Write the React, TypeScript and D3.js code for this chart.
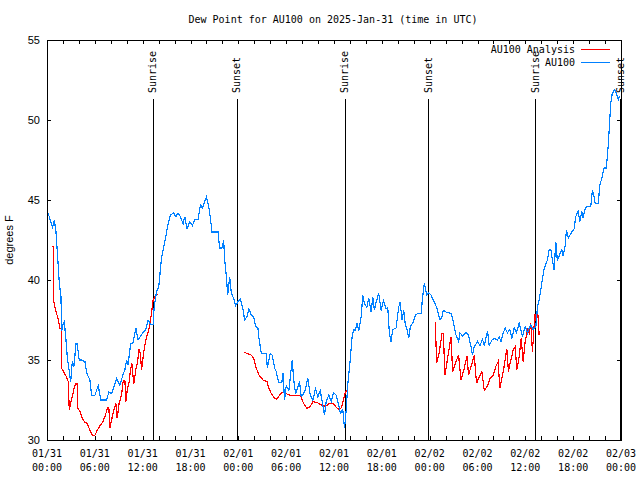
import React from "react";
import * as d3 from "d3";

// hours since 2025-01-31 00:00 UTC
const blueHours = [0.13,0.38,0.71,0.91,1.13,1.42,1.54,1.75,1.84,2.04,2.17,2.38,2.54,2.79,2.97,3.17,3.38,3.63,3.79,4.04,4.35,4.76,4.97,5.38,5.6,6.01,6.42,6.76,7.48,7.76,8.1,8.39,8.73,9.14,9.48,9.77,9.98,10.18,10.48,10.81,11.14,11.43,11.86,12.4,12.68,12.99,13.31,13.44,13.74,14.02,14.36,14.78,15.19,15.49,15.9,16.15,16.44,16.74,17.07,17.28,17.57,17.91,18.24,18.53,18.95,19.25,19.5,19.7,20.0,20.29,20.5,20.7,21.45,21.66,21.95,22.16,22.29,22.5,22.66,22.92,23.13,23.42,23.67,23.95,24.26,24.58,24.79,25.08,25.33,25.63,25.92,26.17,26.46,26.59,26.89,27.51,27.64,28.01,28.26,28.55,28.76,29.05,29.46,29.59,29.8,30.01,30.34,30.64,30.77,30.93,31.18,31.47,31.68,31.89,32.31,32.72,33.02,33.35,33.68,33.97,34.27,34.52,34.81,35.02,35.35,35.65,35.94,36.28,36.48,36.81,37.1,37.32,37.53,37.73,38.03,38.28,38.45,38.7,38.86,39.11,39.41,39.61,39.82,40.11,40.36,40.66,40.86,41.07,41.28,41.61,41.91,42.2,42.54,42.74,42.95,43.16,43.36,43.79,44.11,44.29,44.54,44.74,44.95,45.17,45.37,45.58,45.87,46.21,46.49,46.92,47.12,47.33,47.62,47.87,48.17,48.46,48.71,48.99,49.3,49.55,49.71,50.05,50.68,50.88,51.3,51.63,51.8,52.13,52.56,52.88,53.18,53.38,53.59,54.0,54.31,54.63,54.85,55.26,55.47,55.81,56.1,56.51,56.72,56.94,57.22,57.48,57.76,58.06,58.31,58.6,58.89,59.23,59.44,59.64,59.98,60.27,60.48,60.69,60.98,61.32,61.52,61.73,61.95,62.15,62.36,62.57,62.77,62.99,63.2,63.4,63.61,63.82,64.02,64.24,64.57,64.74,64.99,65.15,65.4,65.7,66.12,66.33,66.62,66.83,67.08,67.24,67.49,67.66,68.21,68.41,68.62,68.75,69.16,69.34,69.59,69.87,70.16,70.28,70.41,70.59,70.71,70.91,71.21,71.41,71.66,71.83];
const blueValues = [44.2,43.8,43.3,43.75,43.0,40.8,39.8,39.0,36.8,37.3,37.4,36.25,35.2,34.3,33.65,34.9,34.6,36.0,36.0,35.0,35.0,34.9,34.2,33.75,32.8,32.8,33.4,32.5,32.5,33.0,32.9,33.3,33.85,33.4,34.0,34.4,35.0,34.7,36.0,36.1,37.0,36.25,36.6,36.9,37.5,37.2,37.2,38.3,39.27,39.6,41.35,42.4,43.5,44.06,44.2,43.96,44.17,43.96,43.5,43.96,43.2,43.65,43.4,43.8,43.8,44.7,44.5,44.8,45.2,44.6,43.85,43.0,43.0,42.0,42.0,42.5,41.25,40.2,39.06,40.2,39.17,38.85,38.4,38.65,38.8,38.2,37.5,37.7,38.2,37.8,37.7,37.1,37.0,36.35,35.4,35.4,34.5,35.4,35.3,34.5,34.27,33.6,33.6,34.17,32.5,33.4,33.1,34.5,35.0,33.85,32.9,33.3,33.65,32.7,33.0,33.85,32.8,32.5,33.2,32.7,33.1,32.4,31.56,32.4,32.8,32.4,32.96,32.8,32.4,31.67,31.9,30.73,31.9,33.5,35.0,36.5,36.9,36.85,37.3,36.85,37.7,39.06,38.5,38.3,38.85,38.0,38.95,38.1,38.6,39.17,38.1,38.7,38.2,38.3,36.67,36.15,36.9,37.0,38.3,38.6,37.5,38.1,37.2,36.9,36.35,37.1,37.3,37.8,37.9,37.9,38.95,39.8,39.06,39.2,39.06,38.75,38.5,38.1,37.5,37.7,38.1,38.0,37.9,37.6,36.56,36.15,36.7,36.5,36.7,36.56,35.83,35.3,35.83,36.15,35.9,36.3,35.9,36.8,35.9,36.25,36.35,36.25,36.46,36.15,36.7,36.98,36.7,36.9,36.35,37.0,36.7,37.3,36.9,36.46,37.1,36.7,37.0,37.2,36.9,37.1,38.3,38.75,39.4,40.1,40.7,41.0,41.25,41.9,41.9,41.25,40.6,42.4,41.2,41.5,41.9,41.5,42.1,43.1,42.6,42.9,43.2,43.96,44.3,43.65,44.3,43.9,44.4,44.6,44.6,45.6,45.2,44.8,44.8,45.94,46.35,47.0,47.0,47.7,48.5,50.0,51.04,51.67,51.9,51.67,51.25,51.5];

// analysis series, NaN marks a gap
const redHours = [0.59,0.79,0.81,1.0,1.21,1.42,1.63,1.79,1.82,2.04,2.38,2.67,2.79,2.97,3.17,3.38,3.59,3.79,3.84,4.13,4.42,4.76,5.05,5.38,5.67,6.01,6.3,6.64,6.97,7.26,7.6,7.76,7.89,8.1,8.3,8.64,8.8,9.05,9.35,9.55,9.77,9.89,10.06,10.31,10.48,10.64,10.89,11.14,11.36,11.56,11.73,11.86,12.06,12.27,12.56,12.81,13.11,13.31,13.52,13.74,13.94,
  19.0,
  24.67,25.21,25.63,25.92,26.26,26.59,27.09,27.59,27.84,28.14,28.55,28.84,29.18,29.59,30.01,30.43,31.05,31.77,32.18,32.6,33.02,33.35,33.85,34.4,34.94,35.44,35.85,36.19,36.6,36.9,37.19,37.44,37.78,
  43.0,
  48.71,48.87,49.21,49.55,49.71,49.92,50.25,50.68,50.88,51.3,51.63,51.93,52.34,52.68,52.88,53.31,53.59,53.88,54.22,54.55,54.85,55.26,55.56,55.97,56.3,56.59,56.8,57.05,57.34,57.68,57.88,58.18,58.47,58.72,58.93,59.23,59.48,59.73,59.98,60.27,60.48,60.69,60.89,61.1,61.23,61.39,61.52,61.73];
const redValues = [42.1,42.1,38.75,38.3,37.9,37.5,36.98,36.98,34.48,34.3,34.0,33.65,31.9,32.3,32.7,33.2,33.5,33.5,32.0,31.8,31.35,31.1,31.05,30.6,30.3,30.3,30.6,30.9,31.1,31.46,32.0,32.0,30.73,31.25,31.7,32.3,31.35,32.3,32.8,33.65,33.75,32.4,33.1,33.65,34.4,34.8,33.5,34.4,34.9,35.7,35.3,34.4,35.2,35.94,36.56,36.98,37.9,38.75,38.96,39.1,39.1,
  NaN,
  35.48,35.4,35.3,35.1,34.48,34.06,33.75,33.65,33.23,32.9,32.6,32.56,32.8,33.0,32.9,32.8,32.8,32.8,32.3,31.98,32.1,32.4,32.35,32.2,32.1,32.3,32.3,32.1,31.9,32.0,32.5,33.0,33.2,
  NaN,
  37.4,34.8,35.5,36.67,36.67,34.06,35.1,36.46,34.27,34.9,35.3,33.75,34.48,35.25,34.06,34.8,35.3,33.54,33.96,34.27,33.1,33.4,33.85,34.06,34.6,34.9,33.23,33.85,34.6,35.7,34.27,35.0,35.6,35.83,34.4,35.2,36.35,34.9,36.15,36.9,36.67,37.3,35.5,37.1,37.9,37.3,38.3,36.56];

const sunHours = [13.27, 23.79, 37.32, 47.83, 61.23, 71.88];
const sunLabels = ["Sunrise", "Sunset", "Sunrise", "Sunset", "Sunrise", "Sunset"];

const xTickHours = [0, 6, 12, 18, 24, 30, 36, 42, 48, 54, 60, 66, 72];
const xTickDates = ["01/31", "01/31", "01/31", "01/31", "02/01", "02/01", "02/01", "02/01", "02/02", "02/02", "02/02", "02/02", "02/03"];
const xTickTimes = ["00:00", "06:00", "12:00", "18:00", "00:00", "06:00", "12:00", "18:00", "00:00", "06:00", "12:00", "18:00", "00:00"];
const yTicks = [30, 35, 40, 45, 50, 55];

const seriesNames = ["AU100 Analysis", "AU100"];
const seriesColors = ["#ff0000", "#0080ff"];
const title = "Dew Point for AU100 on 2025-Jan-31 (time in UTC)";
const yLabel = "degrees F";

const W = 640, H = 480;
const L = 47, R = 621, T = 40, B = 440;
const mono = "'DejaVu Sans Mono', monospace";
const sans = "'Liberation Sans', Arial, sans-serif";

export default function App() {
  const x = d3.scaleLinear().domain([0, 72]).range([L, R]);
  const y = d3.scaleLinear().domain([30, 55]).range([B, T]);
  const minorTicks = d3.range(0, 73, 2);

  const blueData = blueHours.map((h, i) => [h, blueValues[i]] as [number, number]);
  const redData = redHours.map((h, i) => [h, redValues[i]] as [number, number]);
  const line = d3
    .line<[number, number]>()
    .defined((d) => !isNaN(d[1]))
    .x((d) => x(d[0]))
    .y((d) => y(d[1]));

  const tk = 4;

  return (
    <svg width={W} height={H} style={{ position: "absolute", left: 0, top: 0, background: "#fff" }}>
      <rect x={0} y={0} width={W} height={H} fill="#fff" />
      <text x={333} y={23} textAnchor="middle" fontFamily={mono} fontSize={10} fill="#000">
        {title}
      </text>

      {/* ticks */}
      {minorTicks.map((h) => (
        <g key={"xt" + h} stroke="#000" strokeWidth={1}>
          <line x1={Math.round(x(h)) + 0.5} x2={Math.round(x(h)) + 0.5} y1={B} y2={B - tk} />
          <line x1={Math.round(x(h)) + 0.5} x2={Math.round(x(h)) + 0.5} y1={T} y2={T + tk} />
        </g>
      ))}
      {yTicks.map((v) => (
        <g key={"yt" + v} stroke="#000" strokeWidth={1}>
          <line x1={L} x2={L + tk} y1={Math.round(y(v)) + 0.5} y2={Math.round(y(v)) + 0.5} />
          <line x1={R} x2={R - tk} y1={Math.round(y(v)) + 0.5} y2={Math.round(y(v)) + 0.5} />
        </g>
      ))}

      {/* tick labels */}
      {xTickHours.map((h, i) => (
        <g key={"xl" + h} fontFamily={mono} fontSize={10} fill="#000">
          <text x={x(h)} y={457} textAnchor="middle">{xTickDates[i]}</text>
          <text x={x(h)} y={471} textAnchor="middle">{xTickTimes[i]}</text>
        </g>
      ))}
      {yTicks.map((v) => (
        <text key={"yl" + v} x={40} y={y(v) + 4} textAnchor="end" fontFamily={sans} fontSize={11} fill="#000">
          {v}
        </text>
      ))}
      <text
        transform={`translate(13,240) rotate(-90)`}
        textAnchor="middle"
        fontFamily={sans}
        fontSize={11}
        fill="#000"
      >
        {yLabel}
      </text>

      {/* sunrise / sunset */}
      {sunHours.map((h, i) => (
        <g key={"sun" + i}>
          <line x1={Math.round(x(h)) + 0.5} x2={Math.round(x(h)) + 0.5} y1={99} y2={B} stroke="#000" strokeWidth={1} />
          <text
            transform={`translate(${x(h)},93) rotate(-90)`}
            textAnchor="start"
            dominantBaseline="central"
            fontFamily={mono}
            fontSize={10}
            fill="#000"
          >
            {sunLabels[i]}
          </text>
        </g>
      ))}

      {/* data */}
      <path d={line(redData) || ""} fill="none" stroke={seriesColors[0]} strokeWidth={1.2} shapeRendering="crispEdges" />
      <path d={line(blueData) || ""} fill="none" stroke={seriesColors[1]} strokeWidth={1.2} shapeRendering="crispEdges" />

      {/* legend */}
      {seriesNames.map((n, i) => (
        <g key={"lg" + i}>
          <text x={575} y={53 + i * 13} textAnchor="end" fontFamily={mono} fontSize={10} fill="#000">
            {n}
          </text>
          <line x1={581} x2={610} y1={49.5 + i * 13} y2={49.5 + i * 13} stroke={seriesColors[i]} strokeWidth={1} />
        </g>
      ))}

      {/* border */}
      <rect x={L + 0.5} y={T + 0.5} width={R - L} height={B - T} fill="none" stroke="#000" strokeWidth={1} />
    </svg>
  );
}
